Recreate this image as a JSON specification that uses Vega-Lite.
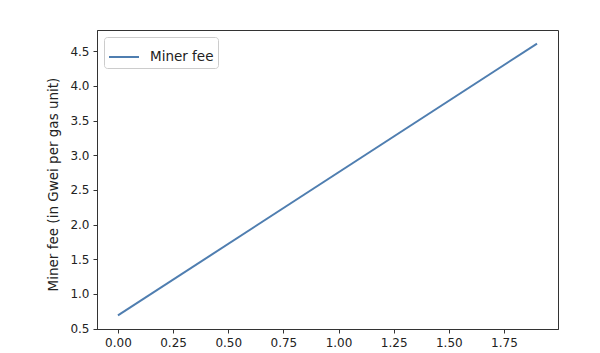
{
  "$schema": "https://vega.github.io/schema/vega-lite/v6.json",
  "width": 461,
  "height": 299,
  "autosize": {"type": "none"},
  "padding": {"left": 97, "top": 30, "right": 42, "bottom": 24},
  "background": "white",
  "config": {
    "font": "DejaVu Sans",
    "view": {"stroke": "#333333", "strokeWidth": 1},
    "axis": {
      "domainColor": "#333333",
      "tickColor": "#333333",
      "tickSize": 4,
      "labelFontSize": 12,
      "labelColor": "#222222",
      "titleFontSize": 13.5,
      "titleFontWeight": "normal",
      "titleColor": "#222222",
      "grid": false
    }
  },
  "data": {
    "values": [
      {"x": 0.0, "fee": 0.69, "series": "Miner fee"},
      {"x": 1.9, "fee": 4.61, "series": "Miner fee"}
    ]
  },
  "mark": {"type": "line", "strokeWidth": 2, "clip": true},
  "encoding": {
    "x": {
      "field": "x",
      "type": "quantitative",
      "scale": {"domain": [-0.095, 1.995], "nice": false, "zero": false},
      "axis": {"values": [0, 0.25, 0.5, 0.75, 1, 1.25, 1.5, 1.75], "format": ".2f", "title": null, "labelPadding": 4}
    },
    "y": {
      "field": "fee",
      "type": "quantitative",
      "scale": {"domain": [0.494, 4.806], "nice": false, "zero": false},
      "axis": {"values": [0.5, 1, 1.5, 2, 2.5, 3, 3.5, 4, 4.5], "format": ".1f", "title": "Miner fee (in Gwei per gas unit)", "titlePadding": 9, "titleY": 154, "labelPadding": 4}
    },
    "color": {
      "field": "series",
      "type": "nominal",
      "scale": {"range": ["#4f7eb0"]},
      "legend": {
        "title": null,
        "orient": "none",
        "legendX": 7,
        "legendY": 7,
        "symbolType": "stroke",
        "symbolSize": 900,
        "symbolStrokeWidth": 2,
        "labelFontSize": 13.5,
        "labelColor": "#222222",
        "strokeColor": "#cccccc",
        "fillColor": "white",
        "cornerRadius": 3,
        "padding": 4,
        "labelOffset": 10
      }
    }
  }
}
